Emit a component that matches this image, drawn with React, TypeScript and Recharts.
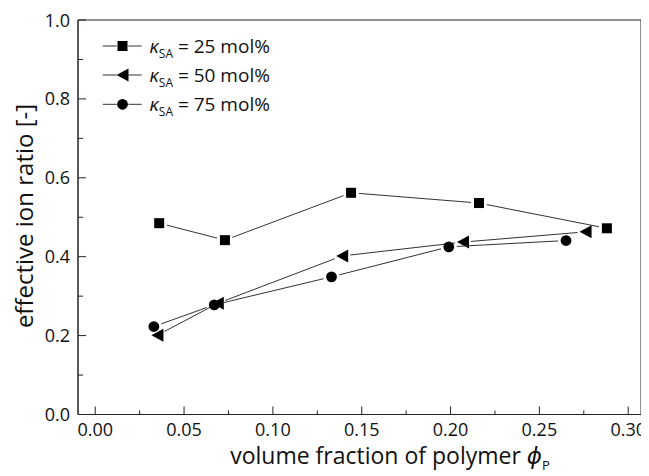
import React from 'react';
import { ScatterChart, Scatter, XAxis, YAxis, ReferenceArea, Customized } from 'recharts';

const phi25 = [0.036, 0.073, 0.144, 0.216, 0.288];
const ratio25 = [0.485, 0.442, 0.562, 0.536, 0.472];
const phi50 = [0.035, 0.069, 0.139, 0.207, 0.276];
const ratio50 = [0.201, 0.282, 0.402, 0.437, 0.463];
const phi75 = [0.033, 0.067, 0.133, 0.199, 0.265];
const ratio75 = [0.223, 0.278, 0.349, 0.425, 0.441];

const seriesLabels = ['25', '50', '75'];

const xMajorTicks = [0, 0.05, 0.1, 0.15, 0.2, 0.25, 0.3];
const xMinorTicks = [0.025, 0.075, 0.125, 0.175, 0.225, 0.275];
const yMajorTicks = [0, 0.2, 0.4, 0.6, 0.8, 1.0];
const yMinorTicks = [0.1, 0.3, 0.5, 0.7, 0.9];

const X_DOMAIN: [number, number] = [-0.0097, 0.3072];
const Y_DOMAIN: [number, number] = [0, 1];

const toPoints = (xs: number[], ys: number[]) => xs.map((x, i) => ({ x, y: ys[i] }));
const data25 = toPoints(phi25, ratio25);
const data50 = toPoints(phi50, ratio50);
const data75 = toPoints(phi75, ratio75);

const FONT = '"Open Sans", "DejaVu Sans", sans-serif';
const AXIS_COLOR = '#222';
const LINE_COLOR = '#333';

const isIn = (v: number, arr: number[]) => arr.some((t) => Math.abs(t - v) < 1e-9);
const allXTicks = [...xMajorTicks, ...xMinorTicks].sort((a, b) => a - b);
const allYTicks = [...yMajorTicks, ...yMinorTicks].sort((a, b) => a - b);

const XTick = (props: any) => {
  const { x, y, payload } = props;
  const v = payload.value;
  const major = isIn(v, xMajorTicks);
  return (
    <g>
      <line x1={x} x2={x} y1={y} y2={y - (major ? 8 : 4)} stroke={AXIS_COLOR} strokeWidth={1} />
      {major && (
        <text x={x} y={y + 21} textAnchor="middle" fontFamily={FONT} fontSize={18} fill="#111">
          {v.toFixed(2)}
        </text>
      )}
    </g>
  );
};

const YTick = (props: any) => {
  const { x, y, payload } = props;
  const v = payload.value;
  const major = isIn(v, yMajorTicks);
  return (
    <g>
      <line x1={x} x2={x + (major ? 8 : 5)} y1={y} y2={y} stroke={AXIS_COLOR} strokeWidth={1} />
      {major && (
        <text x={x - 8} y={y + 6.5} textAnchor="end" fontFamily={FONT} fontSize={18} fill="#111">
          {v.toFixed(1)}
        </text>
      )}
    </g>
  );
};

const GAP = 8;
const GappedLine = (props: any) => {
  const pts = props.points || [];
  const segs: any[] = [];
  for (let i = 0; i < pts.length - 1; i++) {
    const a = pts[i];
    const b = pts[i + 1];
    const dx = b.x - a.x;
    const dy = b.y - a.y;
    const len = Math.sqrt(dx * dx + dy * dy);
    if (len <= 2 * GAP) continue;
    const ux = dx / len;
    const uy = dy / len;
    segs.push(
      <line
        key={i}
        x1={a.x + ux * GAP}
        y1={a.y + uy * GAP}
        x2={b.x - ux * GAP}
        y2={b.y - uy * GAP}
        stroke={LINE_COLOR}
        strokeWidth={1}
      />
    );
  }
  return <g>{segs}</g>;
};

const SquareMark = ({ cx, cy }: any) => <rect x={cx - 5} y={cy - 5} width={10} height={10} fill="#000" />;
const TriMark = ({ cx, cy }: any) => (
  <polygon points={`${cx + 6},${cy - 6.5} ${cx + 6},${cy + 6.5} ${cx - 6},${cy}`} fill="#000" />
);
const CircleMark = ({ cx, cy }: any) => <circle cx={cx} cy={cy} r={5.4} fill="#000" />;

const legendMarks = [SquareMark, TriMark, CircleMark];

const Decorations = () => {
  const rows = [38, 67, 96.3];
  return (
    <g fontFamily={FONT} fill="#111">
      {rows.map((ry, i) => {
        const M = legendMarks[i];
        return (
          <g key={i}>
            <line x1={94.7} x2={108.7} y1={ry} y2={ry} stroke={LINE_COLOR} strokeWidth={1} />
            <line x1={120.3} x2={133.7} y1={ry} y2={ry} stroke={LINE_COLOR} strokeWidth={1} />
            <M cx={114.5} cy={ry} />
            <text x={141.5} y={ry + 6.8} fontSize={19}>
              <tspan fontStyle="italic">κ</tspan>
              <tspan fontSize={12} dy={5}>SA</tspan>
              <tspan dy={-5}>{` = ${seriesLabels[i]} mol%`}</tspan>
            </text>
          </g>
        );
      })}
      <text x={382} y={456} textAnchor="middle" fontSize={23}>
        volume fraction of polymer <tspan fontStyle="italic">ϕ</tspan>
        <tspan fontSize={13} dy={6}>P</tspan>
      </text>
      <text x={25} y={208} textAnchor="middle" fontSize={24} transform="rotate(-90 25 208)">
        effective ion ratio [-]
      </text>
    </g>
  );
};

export default function App() {
  return (
    <ScatterChart width={641} height={466} margin={{ top: 12, right: 8, bottom: 29.5, left: 0 }}>
      <XAxis
        type="number"
        dataKey="x"
        domain={X_DOMAIN}
        ticks={allXTicks}
        interval={0}
        tickSize={0}
        tickMargin={0}
        tickLine={false}
        tick={<XTick />}
        axisLine={{ stroke: AXIS_COLOR, strokeWidth: 1 }}
        height={30}
        allowDataOverflow
      />
      <YAxis
        type="number"
        dataKey="y"
        domain={Y_DOMAIN}
        ticks={allYTicks}
        interval={0}
        tickSize={0}
        tickMargin={0}
        tickLine={false}
        tick={<YTick />}
        axisLine={{ stroke: AXIS_COLOR, strokeWidth: 1 }}
        width={70}
        allowDataOverflow
      />
      <ReferenceArea
        x1={X_DOMAIN[0]}
        x2={X_DOMAIN[1]}
        y1={Y_DOMAIN[0]}
        y2={Y_DOMAIN[1]}
        fill="none"
        fillOpacity={0}
        stroke={AXIS_COLOR}
        strokeWidth={1}
      />
      <Scatter data={data25} line={GappedLine} lineType="joint" shape={SquareMark} isAnimationActive={false} />
      <Scatter data={data50} line={GappedLine} lineType="joint" shape={TriMark} isAnimationActive={false} />
      <Scatter data={data75} line={GappedLine} lineType="joint" shape={CircleMark} isAnimationActive={false} />
      <Customized component={<Decorations />} />
    </ScatterChart>
  );
}
